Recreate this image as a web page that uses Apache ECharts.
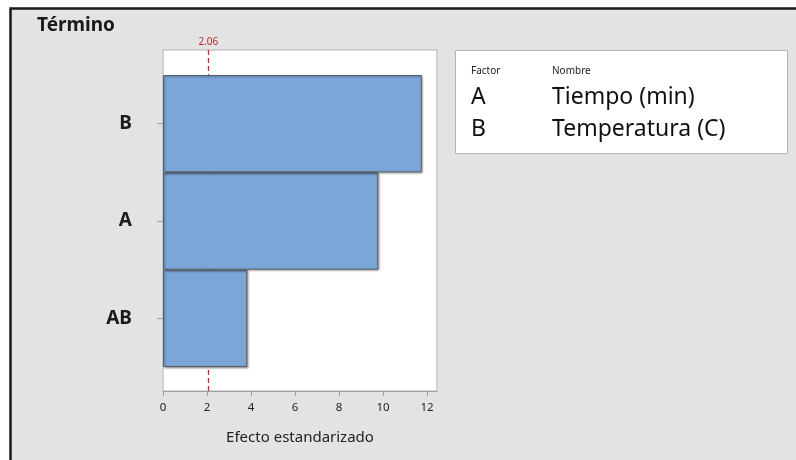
<!DOCTYPE html>
<html>
<head>
<meta charset="utf-8">
<script src="https://cdn.jsdelivr.net/npm/echarts@6/dist/echarts.min.js"></script>
<style>
html,body{margin:0;padding:0;background:#fff;}
#chart{width:796px;height:460px;}
</style>
</head>
<body>
<div id="chart"></div>
<script>
// ---- data ----
var terms = ['AB', 'A', 'B'];            // bottom to top
var effects = [3.83, 9.78, 11.76];       // standardized effects
var refValue = 2.06;                     // reference line
var xTicks = [0, 2, 4, 6, 8, 10, 12];
var factorCodes = ['A', 'B'];
var factorNames = ['Tiempo (min)', 'Temperatura (C)'];
var titleText = 'Término';
var xTitle = 'Efecto estandarizado';

var FONT = '"Noto Sans", "Open Sans", sans-serif';
var XMAX = 12.45;

var chart = echarts.init(document.getElementById('chart'), null, {renderer: 'canvas'});

var graphics = [
  {type: 'rect', z: -10, shape: {x: 10.5, y: 8.5, width: 800, height: 470},
   style: {fill: '#e3e3e3', stroke: '#1a1a1a', lineWidth: 2.5}},
  {type: 'text', left: 37, top: 16, style: {text: titleText, font: 'bold 19px ' + FONT, fill: '#1a1a1a'}},
  {type: 'rect', shape: {x: 455.5, y: 50.5, width: 332, height: 103},
   style: {fill: '#fff', stroke: '#b4b4b4', lineWidth: 1}},
  {type: 'text', left: 471, top: 66, style: {text: 'Factor', font: '10px ' + FONT, fill: '#222'}},
  {type: 'text', left: 552, top: 66, style: {text: 'Nombre', font: '10px ' + FONT, fill: '#222'}}
];
factorCodes.forEach(function (c, i) {
  graphics.push({type: 'text', left: 471, top: 86 + i * 32, style: {text: c, font: '23px ' + FONT, fill: '#111'}});
  graphics.push({type: 'text', left: 552, top: 86 + i * 32, style: {text: factorNames[i], font: '23px ' + FONT, fill: '#111'}});
});

var option = {
  backgroundColor: '#fff',
  animation: false,
  textStyle: {fontFamily: FONT},
  graphic: graphics,
  grid: [
    {left: 163, top: 50, width: 274, height: 341, show: true, backgroundColor: '#fff',
     borderColor: '#b0b0b0', borderWidth: 1, containLabel: false},
    {left: 163, top: 75, width: 274, height: 292, show: false, containLabel: false}
  ],
  xAxis: [
    {type: 'value', gridIndex: 0, min: 0, max: XMAX, interval: 2,
     axisLine: {show: true, lineStyle: {color: '#a0a0a0'}},
     axisTick: {show: true, length: 5, lineStyle: {color: '#a0a0a0'}, customValues: xTicks},
     axisLabel: {fontSize: 11.5, color: '#222', margin: 11, customValues: xTicks, fontFamily: FONT},
     splitLine: {show: false},
     name: xTitle, nameLocation: 'middle', nameGap: 39,
     nameTextStyle: {fontSize: 15, color: '#222', fontFamily: FONT}},
    {type: 'value', gridIndex: 1, min: 0, max: XMAX, show: false}
  ],
  yAxis: [
    {type: 'value', gridIndex: 0, min: 0, max: 1, show: false},
    {type: 'category', gridIndex: 1, data: terms,
     axisLine: {show: false},
     axisTick: {show: true, alignWithLabel: true, length: 6, lineStyle: {color: '#a0a0a0'}},
     axisLabel: {fontSize: 19, fontWeight: 'bold', color: '#1a1a1a', margin: 31, fontFamily: FONT,
       padding: [4, 0, 0, 0]},
     splitLine: {show: false}}
  ],
  series: [
    {type: 'line', xAxisIndex: 0, yAxisIndex: 0, data: [], z: 1,
     markLine: {silent: true, symbol: ['none', 'none'], z: 1,
       lineStyle: {color: '#d9262c', type: [5, 3], width: 1.3},
       label: {show: true, position: 'end', formatter: String(refValue), color: '#b22a2a', fontSize: 10, distance: 3, fontFamily: FONT},
       data: [{xAxis: refValue}]}},
    {type: 'bar', xAxisIndex: 1, yAxisIndex: 1, data: effects, z: 3,
     barCategoryGap: 0,
     itemStyle: {color: '#7ba6d8', borderColor: '#56606e', borderWidth: 1,
       shadowColor: 'rgba(0,0,0,0.35)', shadowBlur: 2, shadowOffsetX: 1, shadowOffsetY: 1}}
  ]
};
chart.setOption(option);
</script>
</body>
</html>
